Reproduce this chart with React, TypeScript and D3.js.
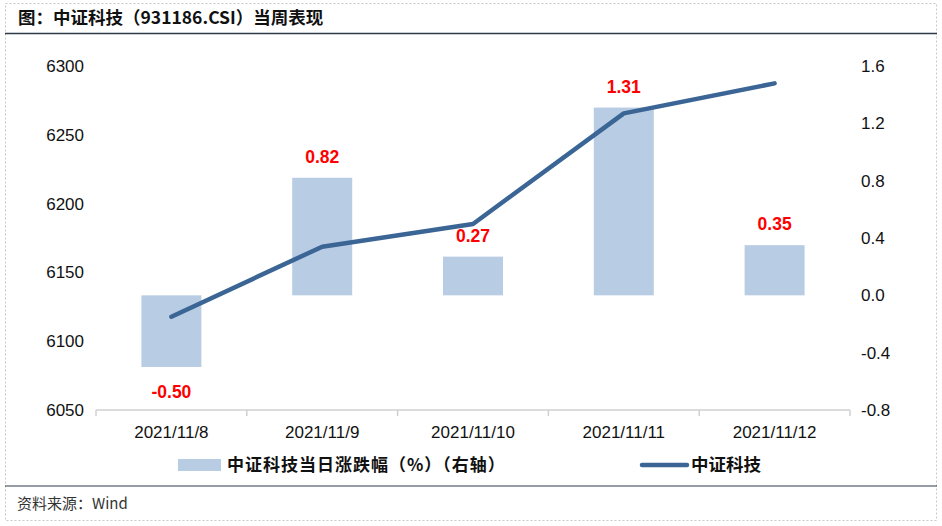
import React from "react";
import * as d3 from "d3";

const categories = ["2021/11/8", "2021/11/9", "2021/11/10", "2021/11/11", "2021/11/12"];
const changePct = [-0.5, 0.82, 0.27, 1.31, 0.35];
const indexValues = [6117.8, 6168.7, 6185.2, 6265.6, 6287.4];
const leftTicks = [6050, 6100, 6150, 6200, 6250, 6300];
const rightTicks = [-0.8, -0.4, 0.0, 0.4, 0.8, 1.2, 1.6];

const W = 942;
const H = 526;
const FONT = "'Liberation Sans', Arial, 'Noto Sans CJK SC', sans-serif";
const CJK = "'Noto Sans CJK SC', 'Liberation Sans', sans-serif";

export default function App() {
  const plotL = 96, plotR = 850, plotT = 66, plotB = 410;
  const xc = d3.scaleBand<string>().domain(categories).range([plotL, plotR]);
  const yL = d3.scaleLinear().domain([6050, 6300]).range([plotB, plotT]);
  const yR = d3.scaleLinear().domain([-0.8, 1.6]).range([plotB, plotT]);
  const line = d3.line<number>()
    .x((_, i) => (xc(categories[i]) as number) + xc.bandwidth() / 2)
    .y((d) => yL(d));
  const barW = 60;
  return (
    <svg width={W} height={H} style={{ position: "absolute", left: 0, top: 0, background: "#fff" }}>
      <rect x={5.5} y={3.5} width={931} height={517} fill="#fff" stroke="#c8c8c8" strokeDasharray="2,2" />
      <text x={18} y={24} fontFamily={CJK} fontWeight="bold" fontSize={17.5} fill="#111">
        图：中证科技（931186.CSI）当周表现
      </text>
      <line x1={5} x2={937} y1={33.5} y2={33.5} stroke="#2e3a48" strokeWidth={1.5} />
      {categories.map((c, i) => {
        const cx = (xc(c) as number) + xc.bandwidth() / 2;
        const v = changePct[i];
        const y0 = yR(0), y1 = yR(v);
        return (
          <rect key={c} x={cx - barW / 2} y={Math.min(y0, y1)} width={barW} height={Math.abs(y1 - y0)} fill="#b8cce4" />
        );
      })}
      <line x1={plotL} x2={plotR} y1={plotB} y2={plotB} stroke="#d0d0d0" strokeWidth={1.5} />
      {d3.range(categories.length + 1).map((i) => {
        const xx = plotL + i * xc.step();
        return <line key={i} x1={xx} x2={xx} y1={plotB} y2={plotB + 6} stroke="#d0d0d0" strokeWidth={1.5} />;
      })}
      {categories.map((c) => (
        <text key={c} x={(xc(c) as number) + xc.bandwidth() / 2} y={438} textAnchor="middle" fontFamily={FONT} fontSize={17} fill="#111">
          {c}
        </text>
      ))}
      {leftTicks.map((t) => (
        <text key={t} x={84} y={yL(t) + 6} textAnchor="end" fontFamily={FONT} fontSize={17} fill="#111">
          {t}
        </text>
      ))}
      {rightTicks.map((t) => (
        <text key={t} x={861} y={yR(t) + 6} textAnchor="start" fontFamily={FONT} fontSize={17} fill="#111">
          {t.toFixed(1)}
        </text>
      ))}
      <path d={line(indexValues) || ""} fill="none" stroke="#3a6595" strokeWidth={4.5} strokeLinecap="round" strokeLinejoin="round" />
      {categories.map((c, i) => {
        const cx = (xc(c) as number) + xc.bandwidth() / 2;
        const v = changePct[i];
        const ly = v >= 0 ? yR(v) - 15 : yR(v) + 31;
        return (
          <text key={c} x={cx} y={ly} textAnchor="middle" fontFamily={FONT} fontWeight="bold" fontSize={17.5} fill="#ff0000">
            {v.toFixed(2)}
          </text>
        );
      })}
      <rect x={178} y={459} width={43} height={12} fill="#b8cce4" />
      <text x={227} y={471} fontFamily={CJK} fontWeight="bold" fontSize={17} letterSpacing={1} fill="#111">
        中证科技当日涨跌幅（%）（右轴）
      </text>
      <line x1={642} x2={687} y1={465} y2={465} stroke="#3a6595" strokeWidth={4.5} strokeLinecap="round" />
      <text x={691} y={471} fontFamily={CJK} fontWeight="bold" fontSize={17.5} fill="#111">
        中证科技
      </text>
      <line x1={5} x2={937} y1={486} y2={486} stroke="#2e3a48" strokeWidth={1.2} />
      <text x={17} y={509} fontFamily={CJK} fontSize={15} fill="#333">
        资料来源：Wind
      </text>
    </svg>
  );
}
